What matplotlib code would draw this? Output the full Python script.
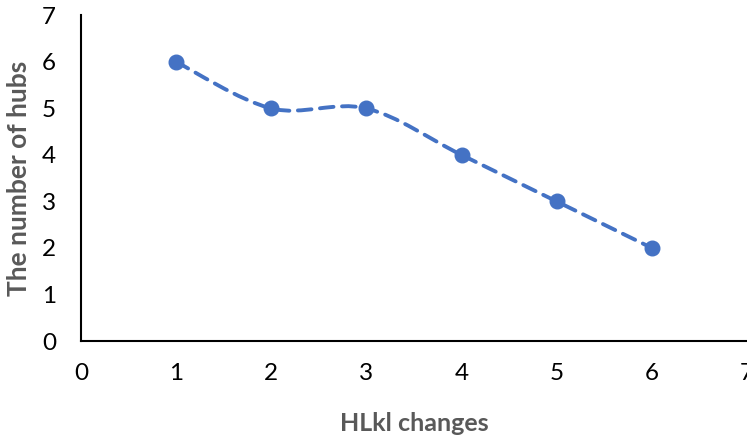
import matplotlib.pyplot as plt
from matplotlib.path import Path
from matplotlib.patches import PathPatch
import numpy as np

plt.rcParams['font.family'] = ['Lato', 'DejaVu Sans']

# Data
hlkl_changes = [1, 2, 3, 4, 5, 6]
num_hubs = [6, 5, 5, 4, 3, 2]
x_ticks = [0, 1, 2, 3, 4, 5, 6, 7]
y_ticks = [0, 1, 2, 3, 4, 5, 6, 7]

blue = '#4472C4'
grey = '#595959'

fig = plt.figure(figsize=(7.47, 4.40), dpi=100)
ax = fig.add_axes([0.1084, 0.225, 0.8916, 0.74])


def smooth_path(xs, ys):
    # Excel-style smoothed line: cubic bezier, control points from neighbours
    pts = np.column_stack([xs, ys]).astype(float)
    n = len(pts)
    verts = [pts[0]]
    codes = [Path.MOVETO]
    for i in range(n - 1):
        p0 = pts[i - 1] if i > 0 else pts[i]
        p1 = pts[i]
        p2 = pts[i + 1]
        p3 = pts[i + 2] if i + 2 < n else pts[i + 1]
        c1 = p1 + (p2 - p0) / 6
        c2 = p2 - (p3 - p1) / 6
        verts += [c1, c2, p2]
        codes += [Path.CURVE4] * 3
    return Path(verts, codes)


patch = PathPatch(smooth_path(hlkl_changes, num_hubs), facecolor='none',
                  edgecolor=blue, lw=2.8, linestyle=(0, (3.5, 2.2)),
                  capstyle='round', zorder=2)
ax.add_patch(patch)
ax.plot(hlkl_changes, num_hubs, 'o', color=blue, markersize=10.5, zorder=3)

ax.set_xlim(0, 7)
ax.set_ylim(0, 7)
ax.set_xticks(x_ticks)
ax.set_yticks(y_ticks)
ax.tick_params(length=0, labelsize=17.5, pad=16)
ax.tick_params(axis='y', pad=18)
for s in ['top', 'right']:
    ax.spines[s].set_visible(False)
for s in ['left', 'bottom']:
    ax.spines[s].set_linewidth(1.5)
    ax.spines[s].set_color('black')

ax.set_xlabel('HLkl changes', fontsize=18, fontweight='bold', color=grey, labelpad=20)
ax.set_ylabel('The number of hubs', fontsize=19, fontweight='bold', color=grey, labelpad=8)

fig.savefig('out.png', dpi=100)
